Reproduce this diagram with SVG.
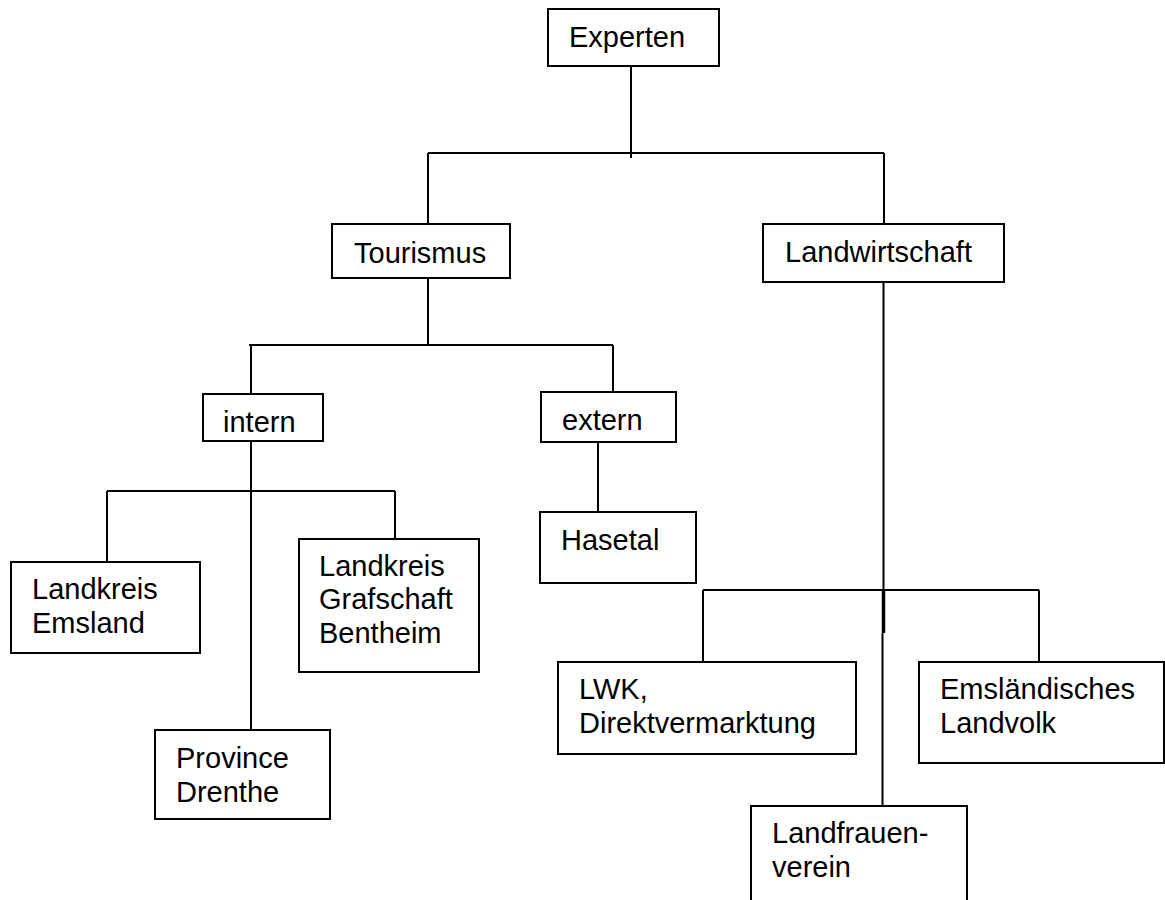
<svg xmlns="http://www.w3.org/2000/svg" width="1165" height="900" viewBox="0 0 1165 900">
<style>
.box{fill:#fff;stroke:#000;stroke-width:2}
.ln{fill:none;stroke:#000;stroke-width:2}
.t{font-family:"Liberation Sans",Arial,sans-serif;font-size:29px;fill:#000}
</style>
<rect width="1165" height="900" fill="#fff"/>
<g id="connectors">
<path class="ln" d="M631 62V158 M428 153H884 M428 153V224 M884 153V224"/>
<path class="ln" d="M428 273V345 M249 345H613 M251 345V394 M613 345V392"/>
<path class="ln" d="M251 441V730 M107 491H395 M107 491V562 M395 491V539"/>
<path class="ln" d="M598 442V512"/>
<path class="ln" d="M883.5 279V590 M703 590H1039 M703 590V662 M1039 590V662 M882.5 633V806"/>
<path d="M883.5 590V633" stroke="#000" stroke-width="3.5" fill="none"/>
</g>
<g id="experten"><rect class="box" x="548" y="9" width="171" height="57"/><text class="t" x="569" y="47">Experten</text></g>
<g id="tourismus"><rect class="box" x="332" y="224" width="178" height="54"/><text class="t" x="354" y="263">Tourismus</text></g>
<g id="landwirtschaft"><rect class="box" x="763" y="224" width="241" height="58"/><text class="t" x="785" y="262">Landwirtschaft</text></g>
<g id="intern"><rect class="box" x="203" y="394" width="120" height="47"/><text class="t" x="223" y="432">intern</text></g>
<g id="extern"><rect class="box" x="541" y="392" width="135" height="50"/><text class="t" x="562" y="430">extern</text></g>
<g id="hasetal"><rect class="box" x="540" y="512" width="156" height="71"/><text class="t" x="561" y="550">Hasetal</text></g>
<g id="emsland"><rect class="box" x="11" y="562" width="189" height="91"/><text class="t" x="32" y="599">Landkreis</text><text class="t" x="32" y="633">Emsland</text></g>
<g id="bentheim"><rect class="box" x="299" y="539" width="180" height="133"/><text class="t" x="319" y="576">Landkreis</text><text class="t" x="319" y="609">Grafschaft</text><text class="t" x="319" y="643">Bentheim</text></g>
<g id="drenthe"><rect class="box" x="155" y="730" width="175" height="89"/><text class="t" x="176" y="768">Province</text><text class="t" x="176" y="802">Drenthe</text></g>
<g id="lwk"><rect class="box" x="558" y="662" width="298" height="92"/><text class="t" x="579" y="699">LWK,</text><text class="t" x="579" y="733">Direktvermarktung</text></g>
<g id="landvolk"><rect class="box" x="919" y="662" width="245" height="101"/><text class="t" x="940" y="699">Emsländisches</text><text class="t" x="940" y="733">Landvolk</text></g>
<g id="landfrauen"><rect class="box" x="751" y="806" width="216" height="110"/><text class="t" x="772" y="843">Landfrauen-</text><text class="t" x="772" y="877">verein</text></g>
</svg>
